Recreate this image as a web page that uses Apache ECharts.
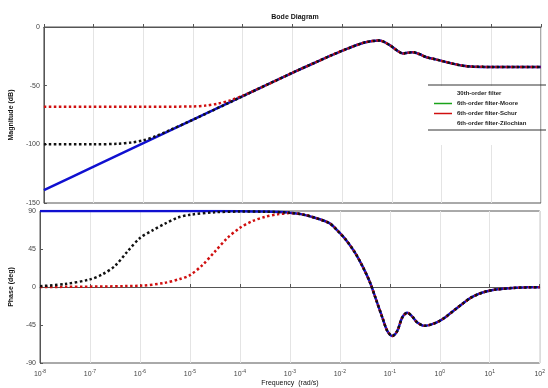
<!doctype html>
<html>
<head>
<meta charset="utf-8">
<title>Bode Diagram</title>
<script src="https://cdn.jsdelivr.net/npm/echarts@6/dist/echarts.min.js"></script>
<style>
  html, body { margin: 0; padding: 0; background: #fff; }
</style>
</head>
<body>
<div id="chart" style="width: 548px; height: 388px;"></div>
<script type="text/javascript">

    // frequencies are stored as log10(w)
    var seriesNames = ['30th-order filter', '6th-order filter-Moore', '6th-order filter-Schur', '6th-order filter-Zilochian'];

    // magnitude (dB)
    var magW30 = [-8, -7, -6, -5, -4, -3, -2.5, -2.21, -1.88, -1.55, -1.25, -1.05, -0.88, -0.78, -0.68, -0.58, -0.45, -0.3, -0.1, 0.18, 0.4, 0.64, 1, 1.5, 2];
    var mag30  = [-139, -119, -99, -79, -59, -39, -29.5, -24, -18.2, -13.2, -11.5, -15.3, -20.5, -22.6, -22, -21.5, -23, -25.8, -27.8, -30.8, -32.8, -33.8, -34, -34, -34];

    var magWMoore = [-8, -7, -6, -5, -4, -3, -2.5, -2.21, -1.88, -1.55, -1.25, -1.05, -0.88, -0.78, -0.68, -0.58, -0.45, -0.3, -0.1, 0.18, 0.4, 0.64, 1, 1.5, 2];
    var magMoore  = [-139, -119, -99, -79, -59, -39, -29.5, -24, -18.2, -13.2, -11.5, -15.3, -20.5, -22.6, -22, -21.5, -23, -25.8, -27.8, -30.8, -32.8, -33.8, -34, -34, -34];

    var magWSchur = [-8, -6, -5, -4.75, -4.5, -4.25, -4, -3.5, -3, -2.5, -2.21, -1.88, -1.55, -1.25, -1.05, -0.88, -0.78, -0.68, -0.58, -0.45, -0.3, -0.1, 0.18, 0.4, 0.64, 1, 1.5, 2];
    var magSchur  = [-68, -68, -67.7, -67, -65.3, -62.5, -58.5, -49, -39, -29.5, -24, -18.2, -13.2, -11.5, -15.3, -20.5, -22.6, -22, -21.5, -23, -25.8, -27.8, -30.8, -32.8, -33.8, -34, -34, -34];

    var magWZil = [-8, -7, -6.5, -6.25, -6, -5.75, -5.5, -5, -4, -3, -2.5, -2.21, -1.88, -1.55, -1.25, -1.05, -0.88, -0.78, -0.68, -0.58, -0.45, -0.3, -0.1, 0.18, 0.4, 0.64, 1, 1.5, 2];
    var magZil  = [-100, -100, -99.5, -98.5, -96.6, -93, -88.5, -79, -59, -39, -29.5, -24, -18.2, -13.2, -11.5, -15.3, -20.5, -22.6, -22, -21.5, -23, -25.8, -27.8, -30.8, -32.8, -33.8, -34, -34, -34];

    // phase (deg)
    var phW30 = [-8, -5, -4, -3.5, -3, -2.75, -2.5, -2.21, -2.05, -1.88, -1.7, -1.55, -1.4, -1.28, -1.15, -1.05, -0.95, -0.85, -0.75, -0.65, -0.55, -0.45, -0.3, -0.15, 0, 0.12, 0.3, 0.45, 0.6, 0.78, 0.95, 1.12, 1.45, 1.78, 2];
    var ph30  = [90, 90, 89.8, 89.3, 88, 86, 82, 75.6, 67, 56, 41, 25, 6, -14, -36, -52, -58, -52, -36, -30.5, -35, -42, -46, -44, -40, -35.4, -27, -20, -13.5, -8.2, -5, -3, -1.2, -0.4, -0.2];

    var phWMoore = [-8, -5, -4, -3.5, -3, -2.75, -2.5, -2.21, -2.05, -1.88, -1.7, -1.55, -1.4, -1.28, -1.15, -1.05, -0.95, -0.85, -0.75, -0.65, -0.55, -0.45, -0.3, -0.15, 0, 0.12, 0.3, 0.45, 0.6, 0.78, 0.95, 1.12, 1.45, 1.78, 2];
    var phMoore  = [90, 90, 89.8, 89.3, 88, 86, 82, 75.6, 67, 56, 41, 25, 6, -14, -36, -52, -58, -52, -36, -30.5, -35, -42, -46, -44, -40, -35.4, -27, -20, -13.5, -8.2, -5, -3, -1.2, -0.4, -0.2];

    var phWSchur = [-8, -6, -5.5, -5.2, -5, -4.75, -4.5, -4.25, -4, -3.75, -3.5, -3.25, -3, -2.75, -2.5, -2.21, -2.05, -1.88, -1.7, -1.55, -1.4, -1.28, -1.15, -1.05, -0.95, -0.85, -0.75, -0.65, -0.55, -0.45, -0.3, -0.15, 0, 0.12, 0.3, 0.45, 0.6, 0.78, 0.95, 1.12, 1.45, 1.78, 2];
    var phSchur  = [0, 1.5, 5, 9.5, 14, 26, 42, 58, 70, 78, 83, 86, 87.5, 86, 82, 75.6, 67, 56, 41, 25, 6, -14, -36, -52, -58, -52, -36, -30.5, -35, -42, -46, -44, -40, -35.4, -27, -20, -13.5, -8.2, -5, -3, -1.2, -0.4, -0.2];

    var phWZil = [-8, -7.5, -7, -6.75, -6.5, -6.25, -6, -5.75, -5.5, -5.25, -5, -4.5, -4, -3.5, -3, -2.75, -2.5, -2.21, -2.05, -1.88, -1.7, -1.55, -1.4, -1.28, -1.15, -1.05, -0.95, -0.85, -0.75, -0.65, -0.55, -0.45, -0.3, -0.15, 0, 0.12, 0.3, 0.45, 0.6, 0.78, 0.95, 1.12, 1.45, 1.78, 2];
    var phZil  = [1, 3.5, 9, 15, 25, 42, 58, 67, 75, 82, 85.5, 88.5, 89.3, 89.2, 88, 86, 82, 75.6, 67, 56, 41, 25, 6, -14, -36, -52, -58, -52, -36, -30.5, -35, -42, -46, -44, -40, -35.4, -27, -20, -13.5, -8.2, -5, -3, -1.2, -0.4, -0.2];

    var magTicks = [-150, -100, -50, 0];
    var phaseTicks = [-90, -45, 0, 45, 90];

    function pairs(logW, vals) {
        var out = [];
        for (var i = 0; i < logW.length; i++) {
            out.push([Math.pow(10, logW[i]), vals[i]]);
        }
        return out;
    }

    var chart = echarts.init(document.getElementById('chart'));

    var tickFont = { fontFamily: 'Liberation Sans', fontSize: 7, color: '#444' };

    function xAxisFor(gridIndex, showLabels) {
        return {
            type: 'log',
            logBase: 10,
            gridIndex: gridIndex,
            min: 1e-8,
            max: 1e2,
            interval: 1,
            splitNumber: 10,
            axisLine: { lineStyle: { color: '#555', width: 1 } },
            axisTick: { show: true, inside: true, length: 3, lineStyle: { color: '#555' } },
            splitLine: { show: true, lineStyle: { color: '#e4e4e4', width: 1 } },
            axisLabel: {
                show: showLabels,
                margin: 6,
                formatter: function (v) {
                    var e = Math.round(Math.log(v) / Math.LN10);
                    return '{b|10}{s|' + e + '}';
                },
                rich: {
                    b: { fontFamily: 'Liberation Sans', fontSize: 7, color: '#444' },
                    s: { fontFamily: 'Liberation Sans', fontSize: 5, color: '#444', verticalAlign: 'top', padding: [0, 0, 5, 0] }
                }
            },
            name: showLabels ? 'Frequency  (rad/s)' : '',
            nameLocation: 'middle',
            nameGap: 17,
            nameTextStyle: { fontFamily: 'Liberation Sans', fontSize: 7, color: '#111' }
        };
    }

    function yAxisFor(gridIndex, ticks, name) {
        return {
            type: 'value',
            gridIndex: gridIndex,
            min: ticks[0],
            max: ticks[ticks.length - 1],
            interval: ticks[1] - ticks[0],
            axisLine: { show: true, lineStyle: { color: '#555', width: 1 } },
            axisTick: { show: true, inside: true, length: 3, lineStyle: { color: '#555' } },
            splitLine: { show: false },
            axisLabel: Object.assign({ margin: 4 }, tickFont),
            name: name,
            nameLocation: 'middle',
            nameGap: 22,
            nameTextStyle: { fontFamily: 'Liberation Sans', fontSize: 7, fontWeight: 'bold', color: '#111' }
        };
    }

    function lineSeries(name, gi, data, color, width, type, z) {
        return {
            name: name,
            type: 'line',
            xAxisIndex: gi,
            yAxisIndex: gi,
            data: data,
            showSymbol: false,
            symbol: 'none',
            smooth: 0.3,
            z: z,
            lineStyle: { color: color, width: width, type: type },
            itemStyle: { color: color }
        };
    }

    var option = {
        animation: false,
        backgroundColor: '#fff',
        title: {
            text: 'Bode Diagram',
            left: 290,
            textAlign: 'center',
            top: 9,
            textStyle: { fontFamily: 'Liberation Sans', fontSize: 7, fontWeight: 'bold', color: '#111' }
        },
        grid: [
            { left: 40, right: 7, top: 27, height: 176, show: true, borderColor: '#555', borderWidth: 1, backgroundColor: '#fff' },
            { left: 40, right: 7, top: 211, height: 153.5, show: true, borderColor: '#555', borderWidth: 1, backgroundColor: '#fff' }
        ],
        xAxis: [xAxisFor(0, false), xAxisFor(1, true)],
        yAxis: [yAxisFor(0, magTicks, 'Magnitude (dB)'), yAxisFor(1, phaseTicks, 'Phase (deg)')],
        legend: {
            orient: 'vertical',
            left: 428,
            top: 86,
            padding: [4, 6, 18, 6],
            itemGap: 3,
            itemWidth: 18,
            itemHeight: 1.5,
            icon: 'rect',
            backgroundColor: '#fff',
            textStyle: { fontFamily: 'Liberation Sans', fontSize: 6, fontWeight: 'bold', color: '#222', padding: [0, 0, 0, 0], lineHeight: 7 },
            data: [
                { name: seriesNames[0], itemStyle: { opacity: 0 } },
                { name: seriesNames[1] },
                { name: seriesNames[2] },
                { name: seriesNames[3], itemStyle: { opacity: 0 } }
            ]
        },
        graphic: [
            { type: 'line', z: 100, shape: { x1: 428, y1: 85, x2: 546, y2: 85 }, style: { stroke: '#333', lineWidth: 1 } },
            { type: 'line', z: 100, shape: { x1: 428, y1: 130, x2: 546, y2: 130 }, style: { stroke: '#333', lineWidth: 1 } }
        ],
        series: [
            lineSeries(seriesNames[1], 0, pairs(magWMoore, magMoore), '#1aa31a', 1, 'solid', 2),
            lineSeries(seriesNames[0], 0, pairs(magW30, mag30), '#1010d0', 2.5, 'solid', 3),
            lineSeries(seriesNames[2], 0, pairs(magWSchur, magSchur), '#d01010', 2.5, 'dotted', 4),
            lineSeries(seriesNames[3], 0, pairs(magWZil, magZil), '#111111', 2.5, 'dotted', 5),
            lineSeries(seriesNames[1], 1, pairs(phWMoore, phMoore), '#1aa31a', 1, 'solid', 2),
            lineSeries(seriesNames[0], 1, pairs(phW30, ph30), '#1010d0', 2.5, 'solid', 3),
            lineSeries(seriesNames[2], 1, pairs(phWSchur, phSchur), '#d01010', 2.5, 'dotted', 4),
            lineSeries(seriesNames[3], 1, pairs(phWZil, phZil), '#111111', 2.5, 'dotted', 5)
        ]
    };

    chart.setOption(option);

</script>
</body>
</html>
